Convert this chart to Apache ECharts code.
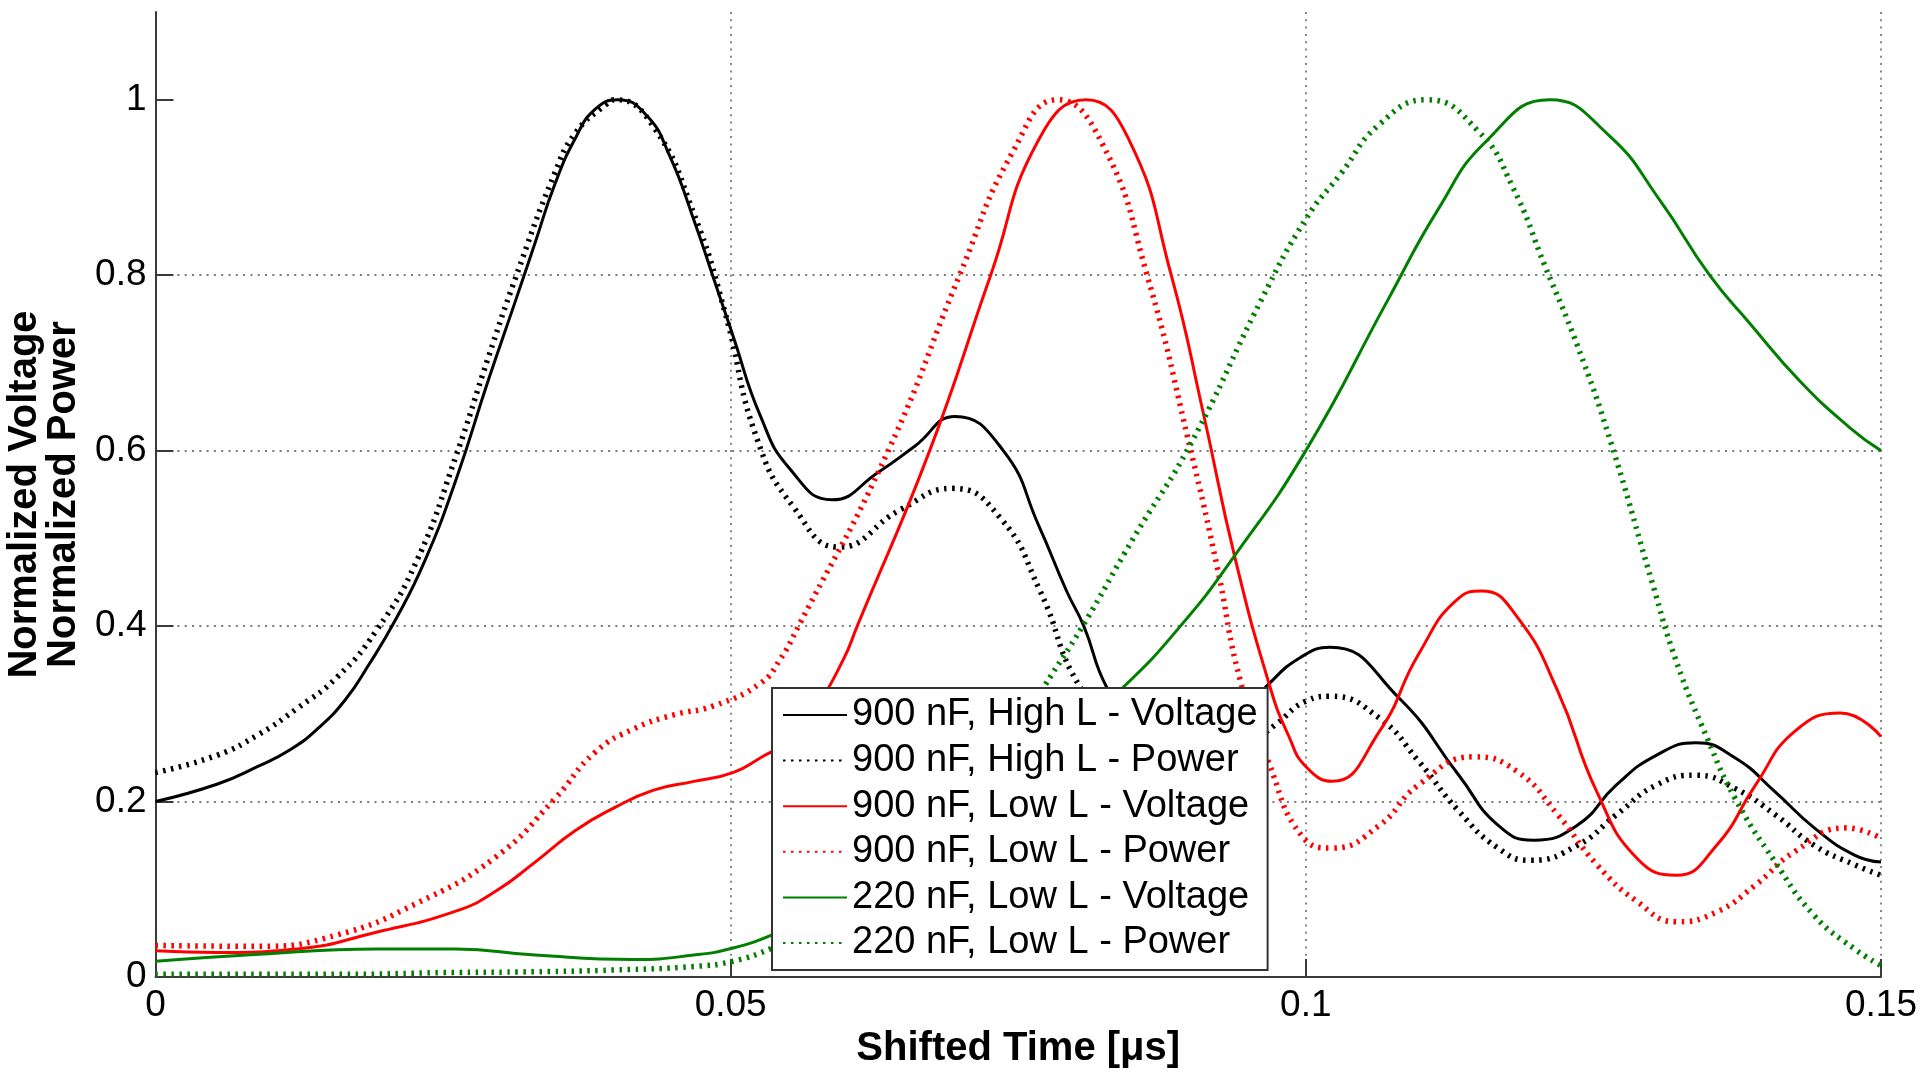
<!DOCTYPE html>
<html>
<head>
<meta charset="utf-8">
<script src="https://cdn.jsdelivr.net/npm/echarts@6/dist/echarts.min.js"></script>
<style>html,body{margin:0;padding:0;background:#fff}#chart{width:1920px;height:1074px}</style>
</head>
<body>
<div id="chart"></div>
<script>
// ---- data (time in µs, normalized values) ----
const seriesNames = [
  '900 nF, High L - Voltage',
  '900 nF, High L - Power',
  '900 nF, Low L - Voltage',
  '900 nF, Low L - Power',
  '220 nF, Low L - Voltage',
  '220 nF, Low L - Power'
];
const xTicks = [0, 0.05, 0.1, 0.15];
const yTicks = [0, 0.2, 0.4, 0.6, 0.8, 1];

const tHighV = [0,0.0054,0.0089,0.0117,0.0141,0.0165,0.0185,0.0209,0.0234,0.0261,0.0289,0.0313,0.033,0.0347,0.0365,0.0382,0.0402,0.0427,0.0447,0.0468,0.0485,0.0502,0.0526,0.0551,0.0588,0.0629,0.066,0.0695,0.0737,0.0768,0.0792,0.0807,0.0827,0.0855,0.0885,0.091,0.094,0.0967,0.0995,0.1021,0.1081,0.1133,0.1167,0.1198,0.1236,0.127,0.1305,0.1339,0.1373,0.1408,0.1442,0.1477,0.15];
const vHighV = [0.2,0.22,0.24,0.259,0.283,0.316,0.355,0.408,0.474,0.566,0.679,0.771,0.837,0.903,0.956,0.989,1.0,0.982,0.936,0.863,0.797,0.731,0.639,0.58,0.544,0.576,0.605,0.639,0.6,0.514,0.44,0.4,0.33,0.28,0.262,0.265,0.295,0.333,0.364,0.376,0.318,0.23,0.173,0.156,0.173,0.219,0.253,0.267,0.25,0.211,0.17,0.139,0.131];

const tHighP = [0,0.0054,0.0089,0.0123,0.0158,0.0192,0.0227,0.0261,0.0289,0.0313,0.0347,0.0365,0.0392,0.04,0.0433,0.0468,0.0495,0.0523,0.0555,0.0594,0.0648,0.0693,0.0734,0.0769,0.0804,0.085,0.089,0.093,0.0974,0.1001,0.1021,0.1064,0.1098,0.1133,0.1167,0.1195,0.1236,0.127,0.1305,0.1339,0.1373,0.1408,0.1442,0.1477,0.15];
const vHighP = [0.233,0.253,0.276,0.306,0.342,0.395,0.474,0.593,0.705,0.797,0.916,0.962,0.995,1.0,0.969,0.87,0.758,0.613,0.535,0.49,0.533,0.557,0.524,0.44,0.33,0.265,0.235,0.245,0.288,0.315,0.32,0.295,0.246,0.189,0.147,0.133,0.15,0.185,0.219,0.23,0.215,0.185,0.15,0.128,0.116];

const tLowV = [0,0.0054,0.0123,0.0192,0.0261,0.0296,0.033,0.0365,0.0399,0.0433,0.0468,0.0502,0.0526,0.055,0.0575,0.0598,0.061,0.0673,0.0726,0.0768,0.0809,0.0846,0.0883,0.0911,0.0938,0.0969,0.0985,0.1,0.1023,0.1064,0.1098,0.1133,0.1153,0.1184,0.1219,0.1253,0.1288,0.1322,0.1357,0.1391,0.1425,0.1465,0.15];
const vLowV = [0.03,0.028,0.032,0.051,0.075,0.098,0.131,0.167,0.193,0.213,0.223,0.233,0.25,0.27,0.31,0.362,0.4,0.6,0.8,0.955,1.0,0.955,0.8,0.642,0.48,0.33,0.275,0.24,0.223,0.28,0.368,0.432,0.44,0.41,0.326,0.211,0.135,0.116,0.15,0.219,0.28,0.301,0.274];

const tLowP = [0,0.0089,0.0158,0.0227,0.0296,0.0347,0.0382,0.0416,0.0451,0.0485,0.0526,0.0543,0.0559,0.0637,0.0699,0.0745,0.0784,0.0823,0.0862,0.09,0.0923,0.0943,0.0967,0.0997,0.1023,0.1064,0.1098,0.1146,0.1184,0.1219,0.1253,0.1288,0.1322,0.1357,0.1391,0.1425,0.147,0.15];
const vLowP = [0.036,0.035,0.048,0.084,0.137,0.203,0.256,0.283,0.299,0.309,0.335,0.362,0.4,0.6,0.8,0.94,1.0,0.95,0.8,0.6,0.467,0.338,0.247,0.16,0.147,0.173,0.219,0.251,0.234,0.185,0.128,0.086,0.063,0.074,0.105,0.143,0.17,0.158];

const tSmallV = [0,0.009,0.0192,0.0261,0.033,0.0416,0.0468,0.0502,0.0536,0.058,0.063,0.068,0.073,0.078,0.0841,0.0891,0.0938,0.1,0.1071,0.1115,0.1157,0.1212,0.1263,0.1308,0.1351,0.1386,0.1429,0.1473,0.15];
const vSmallV = [0.018,0.026,0.032,0.032,0.025,0.02,0.025,0.033,0.048,0.075,0.11,0.155,0.205,0.26,0.33,0.4,0.48,0.6,0.771,0.875,0.953,1.0,0.96,0.885,0.8,0.745,0.68,0.626,0.6];

const tSmallP = [0,0.0163,0.025,0.033,0.04,0.0468,0.0502,0.0536,0.058,0.063,0.068,0.073,0.0772,0.0806,0.085,0.09,0.0961,0.1,0.103,0.1064,0.1105,0.115,0.118,0.1208,0.1236,0.1265,0.1301,0.1322,0.1349,0.1373,0.1408,0.1442,0.1477,0.15];
const vSmallP = [0.003,0.003,0.005,0.006,0.008,0.012,0.018,0.033,0.06,0.1,0.16,0.24,0.33,0.4,0.5,0.608,0.771,0.864,0.915,0.972,1.0,0.964,0.9,0.81,0.72,0.61,0.45,0.36,0.272,0.204,0.131,0.07,0.032,0.013];

// ---- build ----
const FONT = "'Liberation Sans', Arial, Helvetica, sans-serif";
function zip(t, v) { return t.map((x, i) => [x, v[i]]); }

const BLACK = '#000000', RED = '#ff0000', GREEN = '#007f00';
const DOT = [2.5, 5.5];
const defs = [
  { t: tHighV, v: vHighV, color: BLACK, dotted: false },
  { t: tHighP, v: vHighP, color: BLACK, dotted: true },
  { t: tLowV,  v: vLowV,  color: RED,   dotted: false },
  { t: tLowP,  v: vLowP,  color: RED,   dotted: true },
  { t: tSmallV, v: vSmallV, color: GREEN, dotted: false },
  { t: tSmallP, v: vSmallP, color: GREEN, dotted: true }
];

const series = defs.map((d, i) => ({
  name: seriesNames[i],
  type: 'line',
  data: zip(d.t, d.v),
  smooth: 0.5,
  symbol: 'none',
  clip: true,
  color: d.color,
  lineStyle: d.dotted
    ? { color: d.color, width: 5.5, type: DOT, cap: 'butt' }
    : { color: d.color, width: 3, type: 'solid' },
  emphasis: { disabled: true },
  z: 2
}));

const chart = echarts.init(document.getElementById('chart'), null, { renderer: 'canvas' });
chart.setOption({
  animation: false,
  backgroundColor: '#ffffff',
  grid: { left: 155.5, right: 39, top: 12, bottom: 97, containLabel: false, outerBoundsMode: 'none' },
  legend: {
    orient: 'vertical',
    left: 772,
    top: 688,
    data: seriesNames,
    itemWidth: 64,
    itemHeight: 14,
    itemGap: 7.6,
    padding: [8, 10, 8, 10],
    backgroundColor: '#ffffff',
    borderColor: '#333333',
    borderWidth: 2,
    borderRadius: 0,
    selectedMode: false,
    itemStyle: { opacity: 0, color: 'rgba(0,0,0,0)', borderColor: 'rgba(0,0,0,0)', borderWidth: 0 },
    textStyle: { fontFamily: FONT, fontSize: 38, color: '#000', lineHeight: 38 },
    z: 10
  },
  xAxis: {
    type: 'value',
    min: 0,
    max: 0.15,
    interval: 0.05,
    name: 'Shifted Time [\u03bcs]',
    nameLocation: 'middle',
    nameGap: 46,
    nameTextStyle: { fontFamily: FONT, fontSize: 40, fontWeight: 'bold', color: '#000' },
    axisLine: { onZero: false, lineStyle: { color: '#3a3a3a', width: 2 } },
    axisTick: { inside: true, length: 18, lineStyle: { color: '#3a3a3a', width: 2 } },
    axisLabel: { fontFamily: FONT, fontSize: 37, color: '#000', margin: 10,
      customValues: xTicks },
    splitLine: { show: true, lineStyle: { color: '#7a7a7a', width: 1.8, type: [2, 5.3] } }
  },
  yAxis: {
    type: 'value',
    min: 0,
    max: 1.1,
    interval: 0.2,
    name: 'Normalized Voltage\nNormalized Power',
    nameLocation: 'middle',
    nameGap: 72,
    nameTextStyle: { fontFamily: FONT, fontSize: 40, fontWeight: 'bold', color: '#000', lineHeight: 39 },
    axisLine: { onZero: false, lineStyle: { color: '#3a3a3a', width: 2 } },
    axisTick: { inside: true, length: 18, lineStyle: { color: '#3a3a3a', width: 2 },
      customValues: yTicks },
    axisLabel: { fontFamily: FONT, fontSize: 37, color: '#000', margin: 9,
      customValues: yTicks },
    splitLine: { show: true, showMaxLine: false,
      lineStyle: { color: '#7a7a7a', width: 1.8, type: [2, 5.3] } }
  },
  series: series
});
</script>
</body>
</html>
